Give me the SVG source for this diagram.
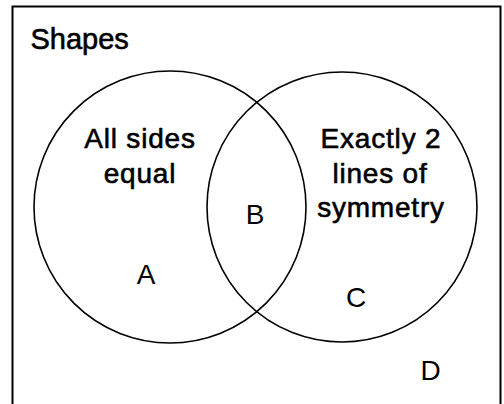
<svg xmlns="http://www.w3.org/2000/svg" width="504" height="404" viewBox="0 0 504 404">
<style>
.t{font-family:"Liberation Sans",Arial,Helvetica,sans-serif;fill:#000}
.m{stroke:#000;stroke-width:0.6;stroke-linejoin:round}
.h{font-size:28px;letter-spacing:0.8px;text-anchor:middle}
.l{font-size:28px;text-anchor:middle}
.c{fill:none;stroke:#000;stroke-width:1.6}
</style>
<rect width="504" height="404" fill="#fff"/>
<g id="frame">
<path d="M12.5 406 V6.5 H500.5 V406" fill="none" stroke="#000" stroke-width="2"/>
<text class="t m" x="30.5" y="49.3" font-size="29">Shapes</text>
</g>
<g id="set-all-sides-equal">
<circle class="c" cx="170" cy="207" r="136"/>
<text class="t m h" x="140" y="148">All sides</text>
<text class="t m h" x="140" y="183">equal</text>
</g>
<g id="set-two-lines">
<circle class="c" cx="342" cy="207" r="135"/>
<text class="t m h" x="381" y="148.3">Exactly 2</text>
<text class="t m h" x="380" y="182.7">lines of</text>
<text class="t m h" x="381" y="216.5">symmetry</text>
</g>
<g id="labels">
<text class="t l" x="146" y="284">A</text>
<text class="t l" x="255" y="224">B</text>
<text class="t l" x="356" y="306.7">C</text>
<text class="t l" x="430.5" y="380">D</text>
</g>
<g id="connectors"/>
</svg>
